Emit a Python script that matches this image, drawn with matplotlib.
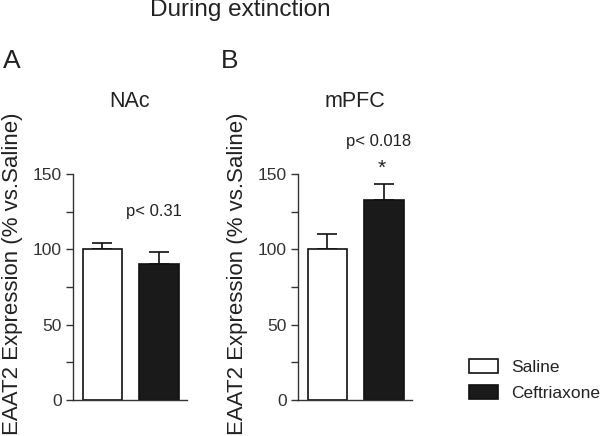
import matplotlib
matplotlib.use('Agg')
import matplotlib.pyplot as plt
from matplotlib.patches import Patch

plt.rcParams['font.family'] = ['Liberation Sans', 'DejaVu Sans']

groups = ['Saline', 'Ceftriaxone']
colors = ['white', '#1a1a1a']

nac_mean = [100, 90]
nac_sem = [4, 8.5]
mpfc_mean = [100, 133]
mpfc_sem = [10.5, 10.5]

yticks = [0, 50, 100, 150]
minor_ticks = [25, 75, 125]
ylabel = 'EAAT2 Expression (% vs.Saline)'

fig = plt.figure(figsize=(6, 4.36), dpi=100)
txt = '#222222'


def draw_panel(ax, means, sems, title):
    x = [0, 1]
    ax.bar(x, means, width=0.7, color=colors, edgecolor='#111111', linewidth=1.2, zorder=2)
    # only the upper half of the error bar is drawn
    ax.errorbar(x, means, yerr=[[0, 0], sems], fmt='none', ecolor='#111111',
                elinewidth=1.2, capsize=7.5, capthick=1.2, zorder=1)
    ax.set_xlim(-0.52, 1.5)
    ax.set_ylim(0, 150)
    ax.set_yticks(yticks)
    ax.set_yticks(minor_ticks, minor=True)
    ax.set_xticks([])
    for s in ['top', 'right']:
        ax.spines[s].set_visible(False)
    for s in ['left', 'bottom']:
        ax.spines[s].set_color('#333333')
        ax.spines[s].set_linewidth(1.0)
    ax.tick_params(axis='y', which='both', direction='out', length=5, width=1.0,
                   color='#333333', labelsize=12.5, labelcolor='#333333', pad=3)
    ax.set_ylabel(ylabel, fontsize=16, color=txt)
    ax.yaxis.set_label_coords(-0.44, 0.558)
    ax.set_title(title, fontsize=15.5, color=txt, pad=48)


axA = fig.add_axes([0.1217, 0.0826, 0.19, 0.518])
axB = fig.add_axes([0.4967, 0.0826, 0.19, 0.518])
draw_panel(axA, nac_mean, nac_sem, 'NAc')
draw_panel(axB, mpfc_mean, mpfc_sem, 'mPFC')

axA.text(0.92, 125, 'p< 0.31', ha='center', va='center', fontsize=12, color=txt)
axB.text(0.9, 172, 'p< 0.018', ha='center', va='center', fontsize=12,
         color=txt, clip_on=False)
axB.text(0.97, 154, '*', ha='center', va='center', fontsize=15, color=txt,
         clip_on=False)

fig.text(0.4, 0.977, 'During extinction', ha='center', va='center', fontsize=17.5, color=txt)
fig.text(0.02, 0.859, 'A', ha='center', va='center', fontsize=19, color=txt)
fig.text(0.383, 0.859, 'B', ha='center', va='center', fontsize=19, color=txt)

handles = [Patch(facecolor=c, edgecolor='#111111', linewidth=1.2) for c in colors]
fig.legend(handles, groups, loc='center left', bbox_to_anchor=(0.7667, 0.128),
           frameon=False, fontsize=12.5, handlelength=1.67, handleheight=0.86,
           labelspacing=0.6, handletextpad=0.75, borderpad=0, labelcolor=txt)

fig.savefig('out.png', dpi=100)
